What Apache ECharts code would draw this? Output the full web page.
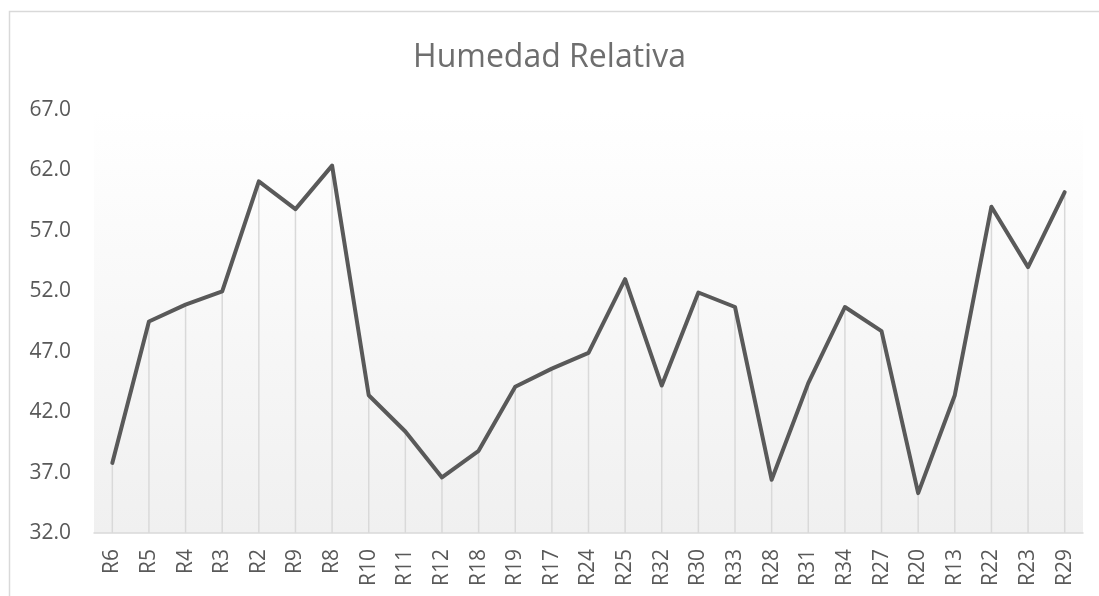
<!DOCTYPE html>
<html>
<head>
<meta charset="utf-8">
<script src="https://cdn.jsdelivr.net/npm/echarts@6/dist/echarts.min.js"></script>
<style>html,body{margin:0;padding:0;background:#fff;}#c{width:1099px;height:596px;}</style>
</head>
<body>
<div id="c"></div>
<script>
const categories = ["R6","R5","R4","R3","R2","R9","R8","R10","R11","R12","R18","R19","R17","R24","R25","R32","R30","R33","R28","R31","R34","R27","R20","R13","R22","R23","R29"];
const humedad = [37.8,49.5,50.9,52.0,61.1,58.8,62.4,43.4,40.4,36.6,38.8,44.1,45.6,46.9,53.0,44.2,51.9,50.7,36.4,44.4,50.7,48.7,35.3,43.4,59.0,54.0,60.2];
const yMin = 32, yMax = 67, yStep = 5;

const chart = echarts.init(document.getElementById('c'));
const font = '"Open Sans", "Noto Sans", sans-serif';
chart.setOption({
  animation: false,
  backgroundColor: '#ffffff',
  title: {
    text: 'Humedad Relativa',
    left: 'center', top: 37,
    textStyle: { fontFamily: font, fontSize: 32, fontWeight: 'normal', color: '#6e6e6e' }
  },
  graphic: [{
    type: 'rect', silent: true, z: -10,
    shape: { x: 9.5, y: 11.5, width: 1300, height: 1000 },
    style: { fill: 'none', stroke: '#d9d9d9', lineWidth: 1.5 }
  }],
  grid: {
    left: 94, right: 16, top: 110, bottom: 63,
    show: true, borderWidth: 0,
    backgroundColor: new echarts.graphic.LinearGradient(0, 0, 0, 1, [
      { offset: 0, color: '#ffffff' },
      { offset: 1, color: '#f0f0f0' }
    ])
  },
  xAxis: {
    type: 'category', data: categories, boundaryGap: true,
    axisLine: { lineStyle: { color: '#d9d9d9', width: 1.5 } },
    axisTick: { show: false },
    axisLabel: { rotate: 90, margin: 16, fontFamily: font, fontSize: 21, color: '#595959', interval: 0 }
  },
  yAxis: {
    type: 'value', min: yMin, max: yMax, interval: yStep,
    axisLine: { show: false }, axisTick: { show: false },
    splitLine: { show: false },
    axisLabel: { margin: 23, fontFamily: font, fontSize: 21, color: '#595959', formatter: v => v.toFixed(1) }
  },
  series: [
    {
      type: 'bar', data: humedad, barWidth: 1.5, z: 1, silent: true,
      itemStyle: { color: '#d9d9d9' }
    },
    {
      type: 'line', data: humedad, z: 5, symbol: 'none', silent: true,
      lineStyle: { color: '#595959', width: 4, cap: 'round', join: 'round' }
    }
  ]
});
</script>
</body>
</html>
